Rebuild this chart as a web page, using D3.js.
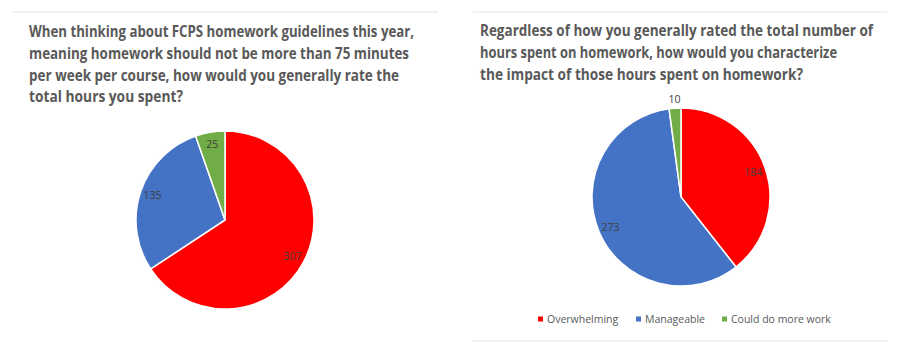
<!DOCTYPE html>
<html>
<head>
<meta charset="utf-8">
<script src="https://cdn.jsdelivr.net/npm/d3@7"></script>
<style>
  body { margin: 0; background: #fff; }
  svg { display: block; font-family: "Open Sans", "Liberation Sans", sans-serif; }
</style>
</head>
<body>
<svg id="chart" width="906" height="361"></svg>
<script>
const categories = ["Overwhelming", "Manageable", "Could do more work"];
const colors = ["#ff0000", "#4472c4", "#70ad47"];
const hoursRating = [307, 135, 25];
const impactRating = [184, 273, 10];
const leftTitle = [
  "When thinking about FCPS homework guidelines this year,",
  "meaning homework should not be more than 75 minutes",
  "per week per course, how would you generally rate the",
  "total hours you spent?"
];
const leftTitleWidths = [385, 380, 370, 154];
const rightTitle = [
  "Regardless of how you generally rated the total number of",
  "hours spent on homework, how would you characterize",
  "the impact of those hours spent on homework?"
];
const rightTitleWidths = [393, 357, 323];

const svg = d3.select("#chart");
const color = d3.scaleOrdinal().domain(categories).range(colors);
const pie = d3.pie().sort(null).value(d => d.value);

// panel separator lines
const rules = [
  [12, 12, 438, 12],
  [473, 12, 887, 12],
  [473, 341, 887, 341]
];
svg.selectAll("line.rule")
  .data(rules)
  .enter()
  .append("line")
  .attr("class", "rule")
  .attr("x1", d => d[0]).attr("y1", d => d[1])
  .attr("x2", d => d[2]).attr("y2", d => d[3])
  .attr("stroke", "#ececec")
  .attr("stroke-width", 1.5);

function drawTitle(lines, widths, x, y0) {
  svg.append("g")
    .selectAll("text")
    .data(lines)
    .enter()
    .append("text")
    .attr("x", x)
    .attr("y", (d, i) => y0 + i * 21.8)
    .attr("textLength", (d, i) => widths[i])
    .attr("lengthAdjust", "spacingAndGlyphs")
    .style("font-size", "16px")
    .style("font-weight", "bold")
    .style("fill", "#595959")
    .text(d => d);
}

function drawPie(values, cx, cy, r) {
  const data = categories.map((c, i) => ({ label: c, value: values[i] }));
  const arc = d3.arc().innerRadius(0).outerRadius(r);
  const g = svg.append("g").attr("transform", `translate(${cx}, ${cy})`);
  const arcs = pie(data);

  g.selectAll("path")
    .data(arcs)
    .enter()
    .append("path")
    .attr("d", arc)
    .attr("fill", d => color(d.data.label))
    .style("stroke", "white")
    .style("stroke-width", "1.5px");

  g.selectAll("text")
    .data(arcs)
    .enter()
    .append("text")
    .attr("transform", d => {
      const a = (d.startAngle + d.endAngle) / 2;
      const small = d.endAngle - d.startAngle < 0.2;
      const rr = small ? r + 9 : r * 0.86;
      return `translate(${Math.sin(a) * rr}, ${-Math.cos(a) * rr})`;
    })
    .attr("text-anchor", "middle")
    .attr("dy", "0.35em")
    .style("font-size", "10.5px")
    .style("fill", "#404040")
    .text(d => d.data.value);
}

drawTitle(leftTitle, leftTitleWidths, 29, 37);
drawTitle(rightTitle, rightTitleWidths, 480, 36);
drawPie(hoursRating, 225, 220, 89);
drawPie(impactRating, 681, 197, 89);

// legend
const legendX = [538, 636, 722];
const legend = svg.append("g")
  .selectAll("g")
  .data(categories)
  .enter()
  .append("g")
  .attr("transform", (d, i) => `translate(${legendX[i]}, 319)`);
legend.append("rect")
  .attr("x", 0).attr("y", -2.5)
  .attr("width", 5).attr("height", 5)
  .attr("fill", d => color(d));
legend.append("text")
  .attr("x", 9)
  .attr("dy", "0.35em")
  .style("font-size", "10.5px")
  .style("fill", "#595959")
  .text(d => d);
</script>
</body>
</html>
